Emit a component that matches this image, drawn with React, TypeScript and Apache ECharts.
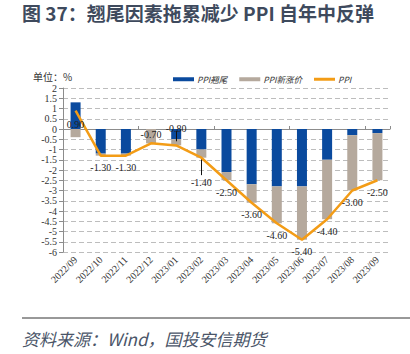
import React, { useEffect, useRef } from "react";
import * as echarts from "echarts";

const categories = [
  "2022/09", "2022/10", "2022/11", "2022/12", "2023/01", "2023/02", "2023/03",
  "2023/04", "2023/05", "2023/06", "2023/07", "2023/08", "2023/09",
];
const carryover = [1.3, -1.2, -1.2, 0, -0.5, -1.0, -2.1, -2.7, -2.8, -2.8, -1.5, -0.3, -0.2];
const newPrice = [-0.4, -0.1, -0.1, -0.7, -0.3, -0.4, -0.4, -0.9, -1.8, -2.6, -2.9, -2.7, -2.3];
const ppi = [0.9, -1.3, -1.3, -0.7, -0.8, -1.4, -2.5, -3.6, -4.6, -5.4, -4.4, -3.0, -2.5];
const seriesNames = ["PPI翘尾", "PPI新涨价", "PPI"];
const titleText = "图 37：翘尾因素拖累减少 PPI 自年中反弹";
const sourceText = "资料来源：Wind，国投安信期货";
const unitText = "单位：%";

const SERIF = "'Liberation Serif', 'DejaVu Serif', serif";
const CJK = "'Noto Sans CJK SC', 'Noto Sans', sans-serif";

export default function App() {
  const ref = useRef<HTMLDivElement>(null);
  useEffect(() => {
    if (!ref.current) return;
    const chart = echarts.init(ref.current, null, { renderer: "svg" });
    const labelFor = (i: number) => {
      if (i === 0) return { show: true, position: "bottom", distance: 9 };
      if (i === 3) return { show: true, position: "top", distance: 4 };
      if (i === 4) return { show: true, position: "top", distance: 12 };
      if (i === 5) return { show: true, position: "bottom", distance: 20 };
      return { show: true, position: "bottom", distance: 7 };
    };
    chart.setOption({
      animation: false,
      backgroundColor: "#ffffff",
      grid: { left: 63, right: 20, top: 88, bottom: 102, containLabel: false },
      legend: {
        left: 168,
        top: 70,
        itemWidth: 21,
        itemHeight: 4,
        itemGap: 12,
        textStyle: { fontStyle: "italic", fontSize: 8.5, color: "#333", fontFamily: CJK, padding: [0, 0, 0, -2] },
        data: [
          { name: seriesNames[0], icon: "rect" },
          { name: seriesNames[1], icon: "rect" },
          { name: seriesNames[2], icon: "path://M0,0 L21,0 L21,3 L0,3 Z" },
        ],
      },
      xAxis: [
        {
          type: "category",
          data: categories,
          position: "bottom",
          axisLine: { show: false, onZero: false },
          axisTick: { show: false },
          axisLabel: {
            rotate: 45,
            interval: 0,
            fontFamily: SERIF,
            fontSize: 10,
            color: "#333",
            margin: 6,
          },
        },
        {
          type: "category",
          data: categories,
          position: "bottom",
          axisLine: { show: true, onZero: true, onZeroAxisIndex: 0, lineStyle: { color: "#8c8c8c", width: 1 } },
          axisTick: { show: true, inside: true, length: 3, lineStyle: { color: "#8c8c8c" } },
          axisLabel: { show: false },
        },
      ],
      yAxis: {
        type: "value",
        min: -6,
        max: 2,
        interval: 0.5,
        axisLine: { show: true, lineStyle: { color: "#8c8c8c" } },
        axisTick: { show: true, length: 4, lineStyle: { color: "#8c8c8c" } },
        axisLabel: { fontFamily: SERIF, fontSize: 10, color: "#333", margin: 6 },
        splitLine: { show: true, lineStyle: { color: "#bdbdbd", type: [5, 3], width: 1 } },
      },
      series: [
        {
          name: seriesNames[0],
          type: "bar",
          stack: "ppi",
          barWidth: 10,
          itemStyle: { color: "#0a4a9e" },
          data: carryover,
        },
        {
          name: seriesNames[1],
          type: "bar",
          stack: "ppi",
          barWidth: 10,
          itemStyle: { color: "#b5a99d" },
          data: newPrice,
        },
        {
          name: seriesNames[2],
          type: "line",
          z: 5,
          symbol: "circle",
          symbolSize: 0.01,
          showSymbol: true,
          lineStyle: { color: "#f39c16", width: 2.5 },
          itemStyle: { color: "#f39c16" },
          data: ppi.map((v, i) => ({
            value: v,
            label: labelFor(i),
          })),
          label: {
            show: true,
            fontFamily: SERIF,
            fontSize: 10,
            color: "#222",
            formatter: (p: any) => Number(p.value).toFixed(2),
          },
          markLine: {
            silent: true,
            symbol: "none",
            label: { show: false },
            lineStyle: { color: "#111", type: "solid", width: 1 },
            data: [
              [{ coord: [categories[4], -0.1] }, { coord: [categories[4], -0.6] }],
              [{ coord: [categories[5], -1.45] }, { coord: [categories[5], -2.25] }],
            ],
          },
        },
      ],
      graphic: [
        {
          type: "text",
          left: 22,
          top: 3,
          style: { text: titleText, fontFamily: CJK, fontWeight: "bold", fontSize: 19, fill: "#3e4a5d" },
        },
        {
          type: "text",
          left: 33,
          top: 71,
          style: { text: unitText, fontFamily: CJK, fontSize: 10, fill: "#333" },
        },
        {
          type: "line",
          shape: { x1: 22, y1: 318, x2: 410, y2: 318 },
          style: { stroke: "#333", lineWidth: 1 },
        },
        {
          type: "text",
          left: 22,
          top: 330,
          style: { text: sourceText, fontFamily: CJK, fontStyle: "italic", fontSize: 17, fill: "#4a5568" },
        },
      ],
    });
    return () => chart.dispose();
  }, []);
  return <div ref={ref} style={{ position: "absolute", left: 0, top: 0, width: 410, height: 354 }} />;
}
